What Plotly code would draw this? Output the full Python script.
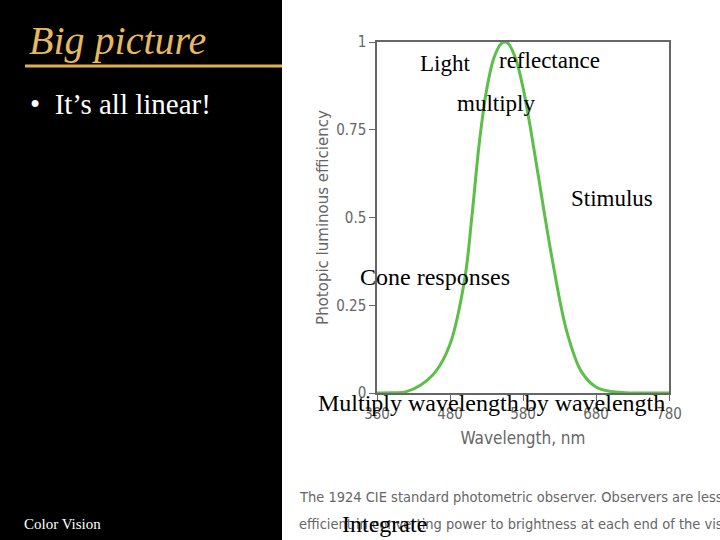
import plotly.graph_objects as go

wavelength = [380,400,420,440,460,480,500,510,520,530,540,550,555,560,570,580,590,600,620,640,660,680,700,720,740,780]
efficiency = [0,0.0004,0.004,0.023,0.06,0.139,0.323,0.503,0.71,0.862,0.954,0.995,1.0,0.995,0.952,0.87,0.757,0.631,0.381,0.175,0.061,0.017,0.0041,0.001,0.0002,0]
x_ticks = [380,480,580,680,780]
y_ticks = [0,0.25,0.5,0.75,1]
y_labels = ["0","0.25","0.5","0.75","1"]

W, H = 720, 540
def px(x): return x / W
def py(y): return 1 - y / H

fig = go.Figure(go.Scatter(x=wavelength, y=efficiency, mode="lines",
                           line=dict(color="#5cbf4a", width=3, shape="spline"),
                           hoverinfo="skip", showlegend=False))

gray = "#666666"
cond = "DejaVu Sans Condensed, Liberation Sans Narrow, Arial"
fig.update_layout(
    width=W, height=H, margin=dict(l=0, r=0, t=0, b=0, autoexpand=False),
    paper_bgcolor="white", plot_bgcolor="white",
    xaxis=dict(domain=[px(377), px(669)], range=[380, 780], tickvals=x_ticks, automargin=False,
               ticks="outside", ticklen=6, tickcolor=gray, showgrid=False, zeroline=False,
               showline=True, linecolor=gray, linewidth=1.5, mirror=True,
               tickfont=dict(family=cond, size=15, color=gray),
               title=dict(text="Wavelength, nm", standoff=10,
                          font=dict(family=cond, size=17, color=gray))),
    yaxis=dict(domain=[py(393), py(42)], range=[0, 1.0], tickvals=y_ticks, ticktext=y_labels, automargin=False,
               ticks="outside", ticklen=6, tickcolor=gray, showgrid=False, zeroline=False,
               showline=True, linecolor=gray, linewidth=1.5, mirror=True,
               tickfont=dict(family=cond, size=15, color=gray),
               title=dict(text="Photopic luminous efficiency", standoff=4,
                          font=dict(family="DejaVu Sans, Arial", size=15, color=gray))),
    shapes=[
        dict(type="rect", xref="paper", yref="paper", x0=0, x1=px(282), y0=0, y1=1,
             fillcolor="black", line=dict(width=0), layer="below"),
        dict(type="line", xref="paper", yref="paper", x0=px(25), x1=px(282), y0=py(66), y1=py(66),
             line=dict(color="#e0b050", width=3)),
    ],
)

def ann(text, x, y, size, color="black", family="Liberation Serif, Times New Roman", italic=False, anchor="left"):
    fig.add_annotation(text=f"<i>{text}</i>" if italic else text, xref="paper", yref="paper",
                       x=px(x), y=py(y), xanchor=anchor, yanchor="middle", showarrow=False,
                       font=dict(family=family, size=size, color=color))

ann("Big picture", 27, 40, 40, color="#e8b860", italic=True)
ann("•  It’s all linear!", 28, 104, 29, color="white")
ann("Color Vision", 22, 524, 15, color="white")
ann("The 1924 CIE standard photometric observer. Observers are less", 297, 497, 14.5, color=gray, family=cond)
ann("efficient in converting power to brightness at each end of the visible", 297, 524, 14.5, color=gray, family=cond)
ann("Light", 418, 64, 23)
ann("reflectance", 497, 61, 23)
ann("multiply", 455, 103, 23)
ann("Stimulus", 569, 199, 23)
ann("Cone responses", 358, 277, 24)
ann("Multiply wavelength by wavelength", 316, 403, 24)
ann("Integrate", 340, 524, 24)

fig.write_html("out.html", post_script="document.body.style.margin='0';",
               config={"displayModeBar": False})
